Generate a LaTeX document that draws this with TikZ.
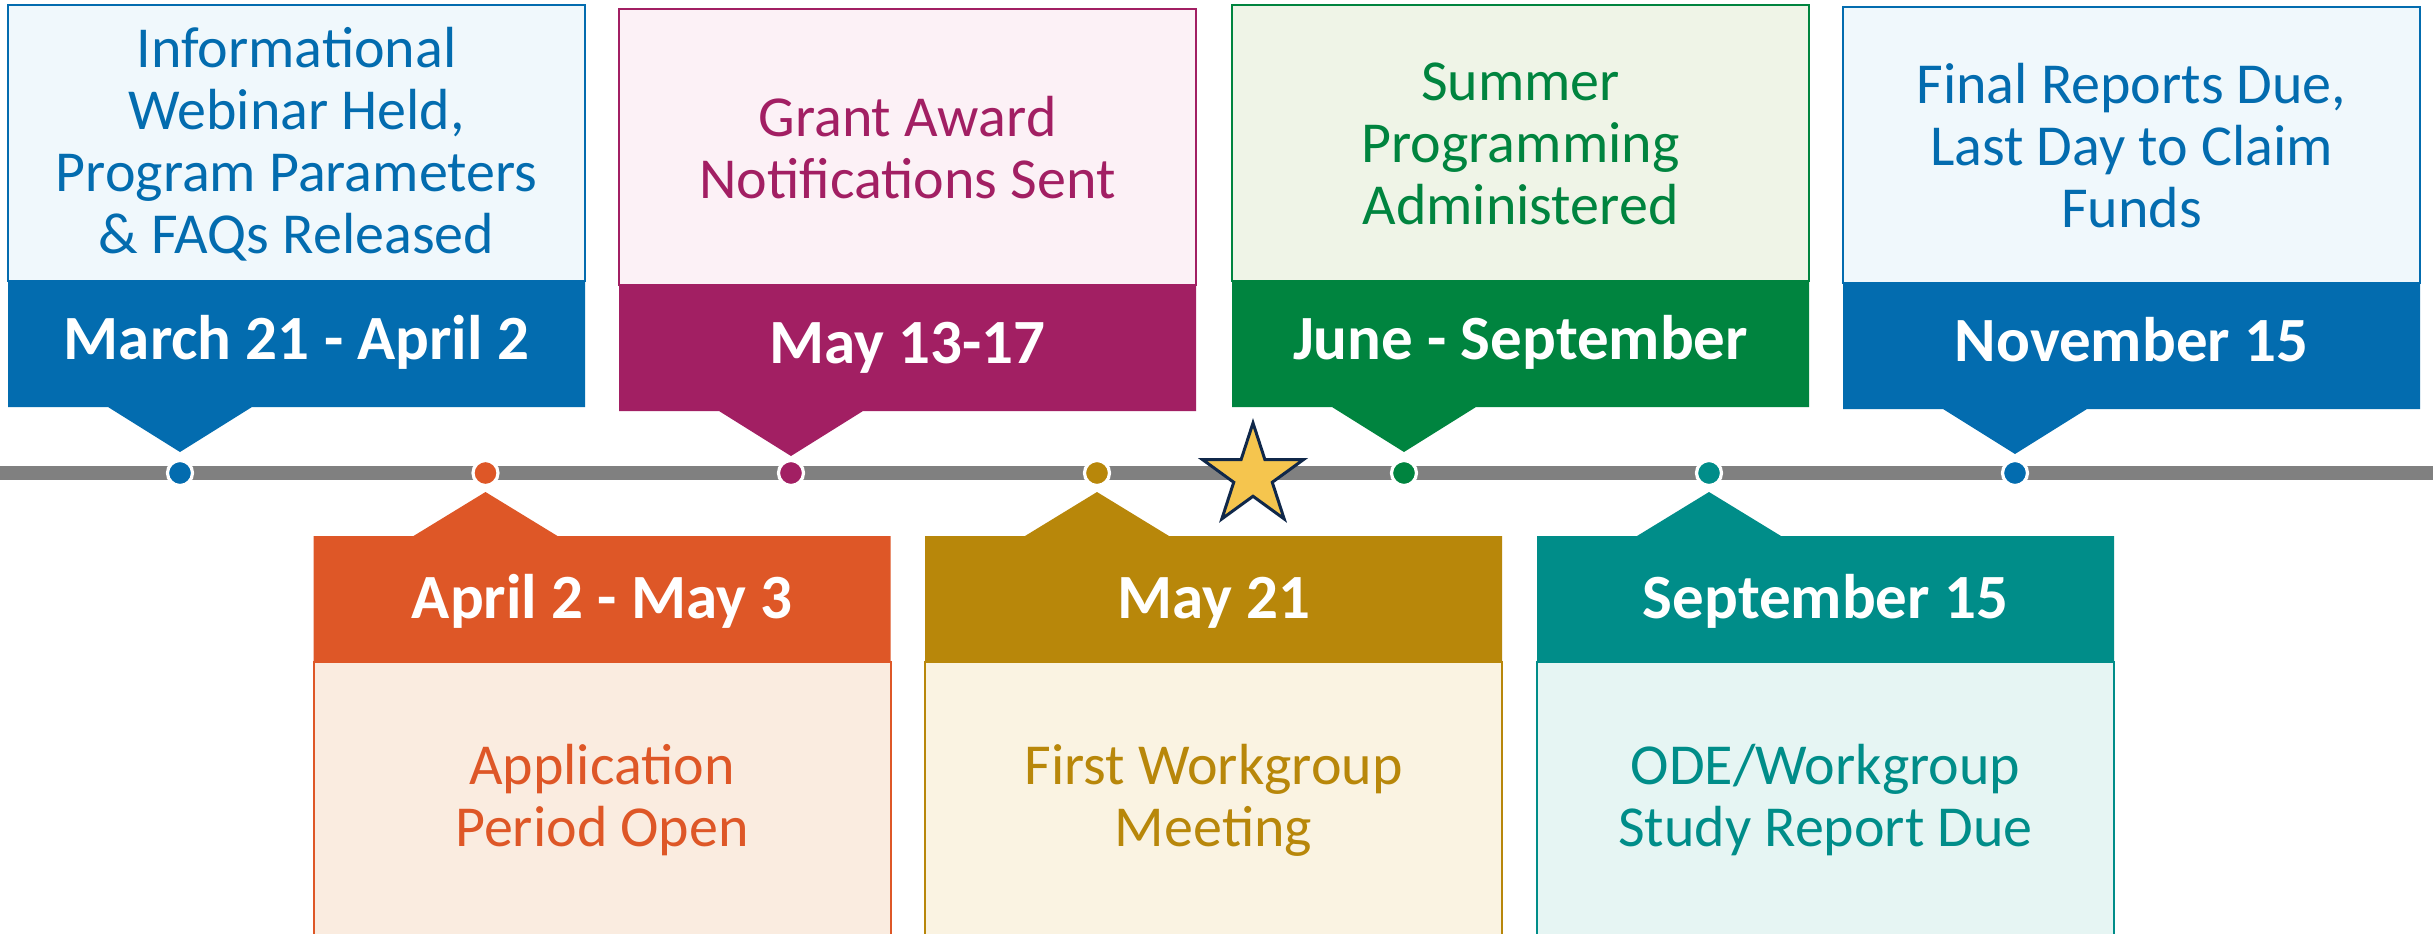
\documentclass[tikz,border=0pt]{standalone}
\usepackage{fontspec}
\setmainfont{Carlito}
\usetikzlibrary{shapes.geometric}
\definecolor{blueC}{HTML}{036CAF}
\definecolor{blueL}{HTML}{F0F8FC}
\definecolor{magC}{HTML}{A21F63}
\definecolor{magL}{HTML}{FCF1F6}
\definecolor{greenC}{HTML}{00843F}
\definecolor{greenL}{HTML}{EFF4E7}
\definecolor{orangeC}{HTML}{DE5727}
\definecolor{orangeL}{HTML}{FAECE0}
\definecolor{goldC}{HTML}{B8870A}
\definecolor{goldL}{HTML}{FAF3E2}
\definecolor{tealC}{HTML}{008D89}
\definecolor{tealL}{HTML}{E6F5F3}
\definecolor{lineC}{HTML}{808080}
\definecolor{starF}{HTML}{F5C54E}
\definecolor{starD}{HTML}{10284A}
\tikzset{
  bodytext/.style={align=center, font=\fontsize{29}{31}\selectfont, inner sep=0pt},
  datetext/.style={font=\bfseries\fontsize{31.5}{36}\selectfont, text=white, inner sep=0pt, anchor=base},
  dotsty/.style={circle, minimum size=12.5pt, inner sep=0pt, draw=white, line width=1.6pt},
  timeline/.style={line width=7pt, draw=lineC},
}
\newcommand\topevent[7]{%
  \filldraw[draw=#4, fill=#5, line width=1pt] (#2,#3) rectangle ({#2+577},{#3+276});
  \fill[#4] (#2,{#3+276}) -- ({#2+577},{#3+276}) -- ({#2+577},{#3+402}) -- ({#2+244},{#3+402}) -- ({#2+172},{#3+447}) -- ({#2+100},{#3+402}) -- (#2,{#3+402}) -- cycle;
  \node[bodytext, text=#4] (#1b) at ({#2+288.5},{#3+139}) {#6};
  \node[datetext] (#1d) at ({#2+288.5},{#3+354}) {#7};
}
\newcommand\botevent[6]{%
  \filldraw[draw=#3, fill=#4, line width=1pt] (#2,662) rectangle ({#2+577},950);
  \fill[#3] (#2,536) -- ({#2+100},536) -- ({#2+172},492) -- ({#2+244},536) -- ({#2+577},536) -- ({#2+577},662) -- (#2,662) -- cycle;
  \node[bodytext, text=#3] (#1b) at ({#2+288.5},800) {#5};
  \node[datetext] (#1d) at ({#2+288.5},618) {#6};
}
\begin{document}
\begin{tikzpicture}[x=0.5pt, y=-0.5pt]
\useasboundingbox (0,0) rectangle (2433,933);
\clip (0,0) rectangle (2433,933);
\fill[white] (0,0) rectangle (2433,933);

\coordinate (tlA) at (0,473);
\coordinate (tlB) at (2433,473);
\draw[timeline] (tlA) -- (tlB);

\topevent{e1}{8}{5}{blueC}{blueL}{Informational\\Webinar Held,\\Program Parameters\\\& FAQs Released}{March 21 - April 2}
\topevent{e3}{619}{9}{magC}{magL}{Grant Award\\Notifications Sent}{May 13-17}
\topevent{e5}{1232}{5}{greenC}{greenL}{Summer\\Programming\\Administered}{June - September}
\topevent{e7}{1843}{7}{blueC}{blueL}{Final Reports Due,\\Last Day to Claim\\Funds}{November 15}

\botevent{e2}{313.5}{orangeC}{orangeL}{Application\\Period Open}{April 2 - May 3}
\botevent{e4}{925}{goldC}{goldL}{First Workgroup\\Meeting}{May 21}
\botevent{e6}{1537}{tealC}{tealL}{ODE/Workgroup\\Study Report Due}{September 15}

\node[dotsty, fill=blueC] (d1) at (180,473) {};
\node[dotsty, fill=orangeC] (d2) at (485.5,473) {};
\node[dotsty, fill=magC] (d3) at (791,473) {};
\node[dotsty, fill=goldC] (d4) at (1097,473) {};
\node[dotsty, fill=greenC] (d5) at (1404,473) {};
\node[dotsty, fill=tealC] (d6) at (1709,473) {};
\node[dotsty, fill=blueC] (d7) at (2015,473) {};

\node[star, star points=5, star point ratio=2.618, minimum size=53pt, inner sep=0pt, fill=starF, draw=starD, line width=1.5pt] (star) at (1253,476) {};
\end{tikzpicture}
\end{document}
